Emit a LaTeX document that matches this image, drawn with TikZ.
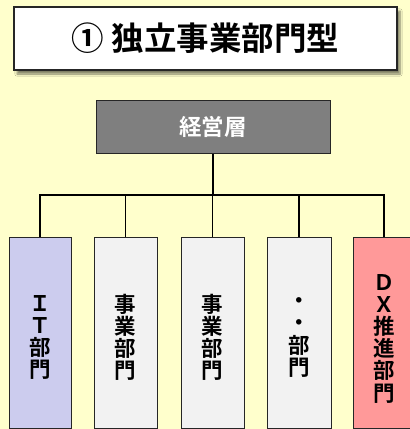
\documentclass[tikz,border=0pt]{standalone}
\usepackage{fontspec}
\setmainfont{Noto Sans CJK JP}[BoldFont={Noto Sans CJK JP Bold}]
\usetikzlibrary{shadows,shadows.blur}
\definecolor{bgy}{HTML}{FFFFCC}
\definecolor{itc}{HTML}{CCCCEE}
\definecolor{buc}{HTML}{F2F2F2}
\definecolor{dxc}{HTML}{FF9999}
\definecolor{mgc}{HTML}{7F7F7F}
\tikzset{
  dept/.style={draw=black!85, line width=0.9pt, minimum width=62pt, minimum height=191pt, inner sep=0pt},
  depttext/.style={inner sep=0pt, align=center, font=\bfseries\fontsize{21.5}{22.2}\selectfont},
  conn/.style={line width=1.1pt, black}
}
\begin{document}
\begin{tikzpicture}[x=1pt,y=-1pt]
\fill[bgy] (0,0) rectangle (410,429);
\useasboundingbox (0,0) rectangle (410,429);
\clip (0,0) rectangle (410,429);
\node[draw=black!85, line width=1.2pt, fill=white, minimum width=383pt, minimum height=63pt,
  blur shadow={shadow xshift=3pt, shadow yshift=-4pt, shadow blur steps=6, shadow opacity=50},
  font=\bfseries\fontsize{32.5}{34}\selectfont] (title) at (205.5,38.5) {① 独立事業部門型};
\node[draw=black!85, line width=1pt, fill=mgc, text=white, minimum width=234pt, minimum height=53pt,
  font=\bfseries\fontsize{22.5}{24}\selectfont] (mgmt) at (213,126.5) {経営層};
\node[dept, fill=itc] (d1) at (40,332.5) {};
\node[dept, fill=buc, minimum width=63pt] (d2) at (125.5,332.5) {};
\node[dept, fill=buc, minimum width=63pt] (d3) at (212.5,332.5) {};
\node[dept, fill=buc, minimum width=64pt] (d4) at (299,332.5) {};
\node[dept, fill=dxc] (d5) at (384,332.5) {};
\node[depttext] (t1) at ([yshift=-5pt]d1.center) {Ｉ\\Ｔ\\部\\門};
\node[depttext] (t2) at ([yshift=-5pt]d2.center) {事\\業\\部\\門};
\node[depttext] (t3) at ([yshift=-5pt]d3.center) {事\\業\\部\\門};
\node[depttext] (t4) at ([yshift=-5pt]d4.center) {・\\・\\部\\門};
\node[depttext] (t5) at ([yshift=-6pt]d5.center) {Ｄ\\Ｘ\\推\\進\\部\\門};
\coordinate (bus) at (213,195);
\draw[line width=2pt] (mgmt.south) -- (bus);
\draw[conn] (d1.north) -- (d1.north |- bus) -- (d5.north |- bus) -- (d5.north);
\foreach \n in {d2,d3,d4} \draw[conn] (\n.north) -- (\n.north |- bus);
\end{tikzpicture}
\end{document}
